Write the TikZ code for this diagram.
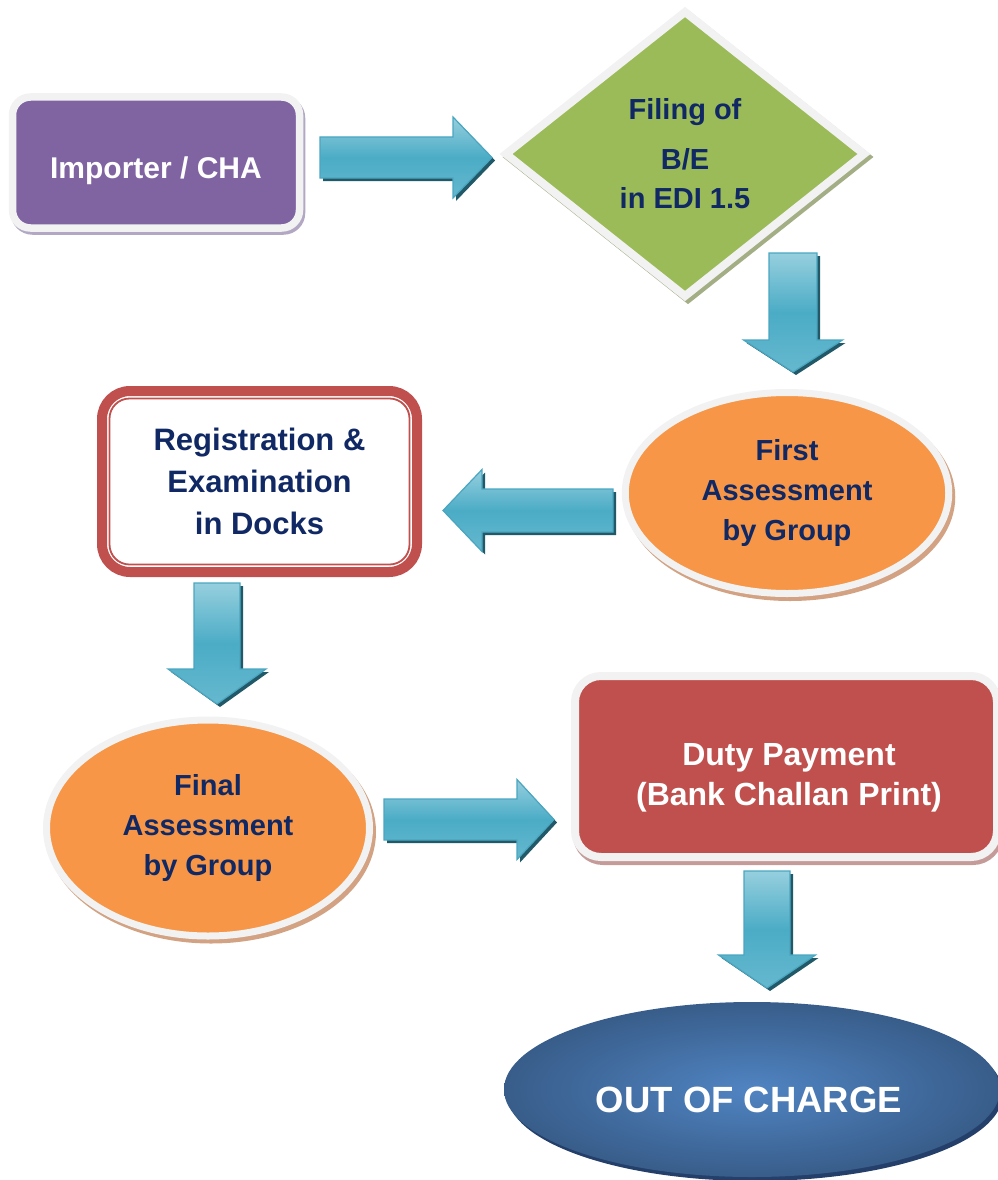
\documentclass[tikz,border=0pt]{standalone}
\usepackage{fontspec}
\setmainfont{Liberation Sans}
\usetikzlibrary{shapes.geometric,calc}
\definecolor{purpleC}{HTML}{8064A2}
\definecolor{purpleSh}{HTML}{B3A8C4}
\definecolor{borderC}{HTML}{F2F2F2}
\definecolor{greenC}{HTML}{9BBB59}
\definecolor{greenSh}{HTML}{A3AE84}
\definecolor{orangeC}{HTML}{F79646}
\definecolor{orangeSh}{HTML}{D2A283}
\definecolor{redC}{HTML}{C0504D}
\definecolor{redSh}{HTML}{C59B99}
\definecolor{blueIn}{HTML}{5084C2}
\definecolor{blueOut}{HTML}{385D8A}
\definecolor{blueSh}{HTML}{24406A}
\definecolor{arrMain}{HTML}{4BACC6}
\definecolor{arrLight}{HTML}{96CFDE}
\definecolor{arrEdge}{HTML}{4AA6C0}
\definecolor{arrSh}{HTML}{215968}
\definecolor{navyC}{HTML}{102864}
\newcommand{\blockarrow}[6]{%
  \coordinate (#6h) at ($(#2)!#5!(#1)$);
  \fill[arrSh, transform canvas={shift={(3pt,-3pt)}}]
    ($(#1)!#3!90:(#2)$) -- ($(#6h)!#3!90:(#2)$) -- ($(#6h)!#4!90:(#2)$) -- (#2)
    -- ($(#6h)!#4!-90:(#2)$) -- ($(#6h)!#3!-90:(#2)$) -- ($(#1)!#3!-90:(#2)$) -- cycle;
  \draw[arrbody]
    ($(#1)!#3!90:(#2)$) -- ($(#6h)!#3!90:(#2)$) -- ($(#6h)!#4!90:(#2)$) -- (#2)
    -- ($(#6h)!#4!-90:(#2)$) -- ($(#6h)!#3!-90:(#2)$) -- ($(#1)!#3!-90:(#2)$) -- cycle;
}
\begin{document}
\begin{tikzpicture}[x=1pt,y=-1pt,
  every node/.style={outer sep=0pt, inner sep=0pt},
  arrbody/.style={draw=arrEdge, line width=1.2pt, line join=miter,
    top color=arrLight, bottom color=arrMain!65!arrLight, middle color=arrMain},
  impbox/.style={rectangle, rounded corners=18pt, minimum width=287pt, minimum height=131pt,
    fill=purpleC, draw=borderC, line width=7.5pt,
    preaction={fill=purpleSh, draw=purpleSh, line width=7.5pt, transform canvas={shift={(2pt,-3pt)}}}},
  diabox/.style={shape=diamond, minimum width=358pt, minimum height=284pt,
    fill=greenC, draw=borderC, line width=8pt, align=center,
    preaction={fill=greenSh, draw=greenSh, line width=8pt, transform canvas={shift={(3pt,-3pt)}}}},
  ellbox/.style={shape=ellipse, fill=orangeC, draw=borderC, line width=7pt, align=center,
    preaction={fill=orangeSh, draw=orangeSh, line width=7pt, transform canvas={shift={(3pt,-4pt)}}}},
  regbox/.style={rectangle, rounded corners=28pt, minimum width=315pt, minimum height=181pt,
    fill=white, draw=redC, line width=10pt, align=center},
  dutybox/.style={rectangle, rounded corners=26pt, minimum width=422pt, minimum height=181pt,
    fill=redC, draw=borderC, line width=8pt,
    preaction={fill=redSh, draw=redSh, line width=8pt, transform canvas={shift={(2pt,-4pt)}}}},
  outell/.style={shape=ellipse, minimum width=496pt, minimum height=175pt,
    inner color=blueIn, outer color=blueOut,
    preaction={fill=blueSh, transform canvas={shift={(3pt,-4pt)}}}},
  ntext/.style={text=navyC, align=center},
  wtext/.style={text=white, align=center}
]
\useasboundingbox (0,0) rectangle (997,1180);

% shapes
\node[impbox] (imp) at (156,162.5) {};
\node[wtext, font=\bfseries\fontsize{30}{38}\selectfont] (impT) at ([yshift=-8.5pt]imp.center) {Importer / CHA};

\node[diabox, text=navyC, font=\bfseries\fontsize{29}{39}\selectfont] (file) at (685,154)
  {Filing of\\[11pt]B/E\\in EDI 1.5};

\node[ellbox, minimum width=323.5pt, minimum height=201pt, text=navyC,
  font=\bfseries\fontsize{29}{40}\selectfont] (fa) at (787,493) {First\\Assessment\\by Group};

\node[regbox, text=navyC, font=\bfseries\fontsize{31}{42}\selectfont] (reg) at (259.5,481.5)
  {Registration \&\\Examination\\in Docks};
\draw[redC, line width=1.8pt, rounded corners=20pt]
  ([shift={(7.5,7.5)}]reg.north west) rectangle ([shift={(-7.5,-7.5)}]reg.south east);

\node[ellbox, minimum width=323pt, minimum height=216pt, text=navyC,
  font=\bfseries\fontsize{29}{40}\selectfont] (fin) at (208,828) {Final\\Assessment\\by Group};

\node[dutybox] (duty) at (786,766.5) {};
\node[wtext, font=\bfseries\fontsize{32}{40}\selectfont] (dutyT) at ([xshift=3pt,yshift=-11.5pt]duty.center)
  {Duty Payment\\(Bank Challan Print)};

\node[outell] (out) at (752,1089.5) {};
\node[wtext, font=\bfseries\fontsize{36.5}{44}\selectfont] (outT) at ([xshift=-3pt,yshift=-10.5pt]out.center)
  {OUT OF CHARGE};

% arrow end points
\coordinate (a1s) at ($(imp.east)+(20.5,-5)$);
\coordinate (a1e) at ($(file.west)+(-14,3.5)$);
\coordinate (a2s) at ($(file.south)+(108,-43)$);
\coordinate (a2e) at ($(fa.north)+(6,-20.5)$);
\coordinate (a3s) at ($(fa.west)+(-12.25,17.5)$);
\coordinate (a3e) at ($(reg.east)+(26,29)$);
\coordinate (a4s) at ($(reg.south)+(-42.5,11)$);
\coordinate (a4e) at ($(fin.north)+(9,-16)$);
\coordinate (a5s) at ($(fin.east)+(14.5,-8.5)$);
\coordinate (a5e) at ($(duty.west)+(-21,53)$);
\coordinate (a6s) at ($(duty.south)+(-19,14)$);
\coordinate (a6e) at ($(out.north)+(15,-14)$);

\blockarrow{a1s}{a1e}{20.5pt}{40.5pt}{39pt}{ar1}
\blockarrow{a2s}{a2e}{24pt}{49.5pt}{32pt}{ar2}
\blockarrow{a3s}{a3e}{21.5pt}{41pt}{39pt}{ar3}
\blockarrow{a4s}{a4e}{23pt}{49pt}{35pt}{ar4}
\blockarrow{a5s}{a5e}{20.5pt}{40pt}{37pt}{ar5}
\blockarrow{a6s}{a6e}{23pt}{48.5pt}{33pt}{ar6}
\end{tikzpicture}
\end{document}
